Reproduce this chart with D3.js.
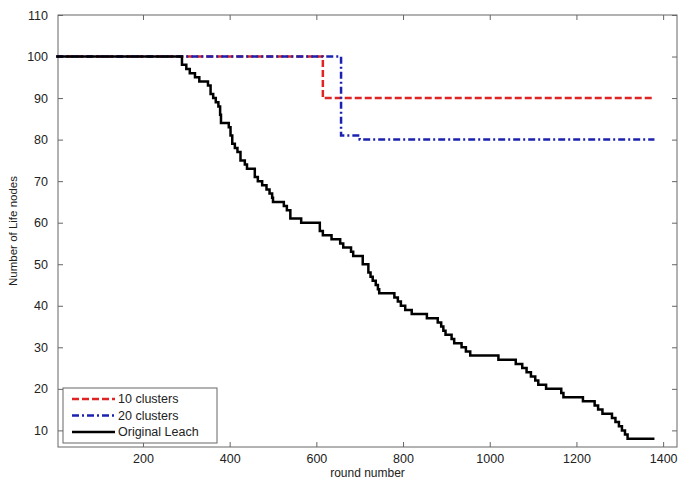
<!DOCTYPE html>
<html>
<head>
<meta charset="utf-8">
<script src="https://cdn.jsdelivr.net/npm/d3@7"></script>
<style>
  body { margin: 0; background: #fff; }
  svg { display: block; font-family: "Liberation Sans", Arial, sans-serif; }
</style>
</head>
<body>
<div id="chart"></div>
<script>
// Alive nodes per round, stored as step breakpoints (round where the count changes).
const leachRounds = [0, 290, 300, 308, 320, 330, 350, 356, 362, 368, 374, 378, 380, 398, 402, 406, 412, 418, 425, 435, 440,
  458, 465, 475, 485, 492, 498, 500, 525, 532, 540, 565, 608, 615, 635, 655, 662, 680, 685, 707, 720, 725, 730, 737, 742, 745,
  780, 788, 795, 805, 820, 855, 880, 888, 893, 898, 912, 918, 935, 945, 955, 1020, 1060, 1075, 1085, 1095, 1105, 1112, 1130,
  1165, 1170, 1215, 1242, 1250, 1260, 1282, 1290, 1298, 1305, 1312, 1318, 1380];
const leachNodes = [100, 98, 97, 96, 95, 94, 93, 91, 90, 89, 88, 86, 84, 83, 81, 79, 78, 77, 75, 74, 73,
  71, 70, 69, 68, 67, 66, 65, 64, 63, 61, 60, 58, 57, 56, 55, 54, 53, 52, 50, 48, 47, 46, 45, 44, 43,
  42, 41, 40, 39, 38, 37, 36, 35, 34, 33, 32, 31, 30, 29, 28, 27, 26, 25, 24, 23, 22, 21, 20,
  19, 18, 17, 16, 15, 14, 13, 12, 11, 10, 9, 8, 8];
const c10Rounds = [0, 615, 1380];
const c10Nodes = [100, 90, 90];
const c20Rounds = [0, 657, 700, 1380];
const c20Nodes = [100, 81, 80, 80];

const xTicks = [200, 400, 600, 800, 1000, 1200, 1400];
const yTicks = [10, 20, 30, 40, 50, 60, 70, 80, 90, 100, 110];

const series = [
  { name: '10 clusters', rounds: c10Rounds, nodes: c10Nodes, color: '#e02424', dash: '7 3', width: 2.5 },
  { name: '20 clusters', rounds: c20Rounds, nodes: c20Nodes, color: '#1c22b0', dash: '7 3 2 3', width: 2.5 },
  { name: 'Original Leach', rounds: leachRounds, nodes: leachNodes, color: '#000', dash: null, width: 2.5 }
];

const width = 680, height = 479;
const margin = { top: 15, right: 3, bottom: 32, left: 58 };
const innerW = width - margin.left - margin.right;
const innerH = height - margin.top - margin.bottom;

const x = d3.scaleLinear().domain([4, 1432]).range([0, innerW]);
const y = d3.scaleLinear().domain([6, 110]).range([innerH, 0]);

const svg = d3.select('#chart').append('svg').attr('width', width).attr('height', height);
const root = svg.append('g').attr('transform', `translate(${margin.left},${margin.top})`);

const axisColor = '#666';
// MATLAB-style box with inward ticks on every side
const styleAxis = g => {
  g.select('.domain').remove();
  g.selectAll('.tick line').attr('stroke', axisColor);
  g.selectAll('.tick text').attr('fill', '#222').attr('font-size', 12.5);
};
root.append('g').attr('transform', `translate(0,${innerH})`)
  .call(d3.axisBottom(x).tickValues(xTicks).tickFormat(d3.format('d')).tickSizeInner(-5).tickPadding(7)).call(styleAxis);
root.append('g').call(d3.axisTop(x).tickValues(xTicks).tickSizeInner(-5).tickFormat('')).call(styleAxis);
root.append('g').call(d3.axisLeft(y).tickValues(yTicks).tickSizeInner(-5).tickPadding(10)).call(styleAxis);
root.append('g').attr('transform', `translate(${innerW},0)`)
  .call(d3.axisRight(y).tickValues(yTicks).tickSizeInner(-5).tickFormat('')).call(styleAxis);
root.append('rect').attr('width', innerW).attr('height', innerH)
  .attr('fill', 'none').attr('stroke', axisColor).attr('stroke-width', 1);

const line = d3.line().curve(d3.curveStepAfter).x(d => x(d[0])).y(d => y(d[1]));
series.forEach(s => {
  root.append('path').datum(s.rounds.map((r, i) => [r, s.nodes[i]]))
    .attr('fill', 'none').attr('stroke', s.color).attr('stroke-width', s.width)
    .attr('stroke-dasharray', s.dash).attr('d', line);
});

// Legend in the lower-left corner
const legend = root.append('g').attr('transform', 'translate(5,373)');
legend.append('rect').attr('width', 154).attr('height', 55)
  .attr('fill', '#fff').attr('stroke', axisColor);
series.forEach((s, i) => {
  const ly = 11 + i * 16.5;
  legend.append('line').attr('x1', 9).attr('x2', 52).attr('y1', ly).attr('y2', ly)
    .attr('stroke', s.color).attr('stroke-width', s.width).attr('stroke-dasharray', s.dash);
  legend.append('text').attr('x', 55).attr('y', ly).attr('dy', '.35em')
    .attr('font-size', 12.5).attr('fill', '#222').text(s.name);
});

svg.append('text').attr('x', margin.left + innerW / 2).attr('y', height - 2)
  .attr('text-anchor', 'middle').attr('font-size', 12).attr('fill', '#222').text('round number');
svg.append('text').attr('transform', `translate(17,${margin.top + innerH / 2}) rotate(-90)`)
  .attr('text-anchor', 'middle').attr('font-size', 11.5).attr('fill', '#222').text('Number of Life nodes');
</script>
</body>
</html>
